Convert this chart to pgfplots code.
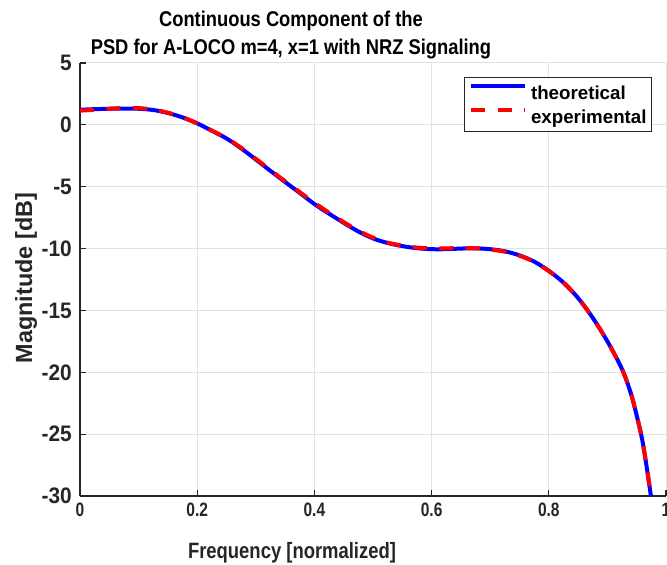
\documentclass[border=0pt]{standalone}
\usepackage{fontspec}
\setmainfont{Liberation Sans}
\newfontfamily\ftitle{Liberation Sans}[FakeStretch=0.86]
\newfontfamily\fxlab{Liberation Sans}[FakeStretch=0.83]
\newfontfamily\fxtick{Liberation Sans}[FakeStretch=0.80]
\newfontfamily\fytick{Liberation Sans}[FakeStretch=0.93]
\usepackage{pgfplots}
\pgfplotsset{compat=1.18}
\usepackage{pgfplotstable}
\definecolor{axgray}{RGB}{38,38,38}
\definecolor{gridgray}{RGB}{226,226,226}

\pgfplotstableread{
x y
0 1.22
0.025 1.27
0.05 1.30
0.075 1.32
0.1 1.30
0.125 1.20
0.15 0.96
0.175 0.60
0.2 0.12
0.225 -0.48
0.25 -1.10
0.275 -1.90
0.3 -2.80
0.325 -3.72
0.35 -4.62
0.375 -5.50
0.4 -6.40
0.425 -7.18
0.45 -7.92
0.475 -8.62
0.5 -9.18
0.525 -9.55
0.55 -9.80
0.575 -9.97
0.6 -10.05
0.625 -10.05
0.65 -10.00
0.675 -9.98
0.7 -10.05
0.725 -10.22
0.75 -10.55
0.775 -11.05
0.8 -11.80
0.825 -12.75
0.85 -14.00
0.875 -15.60
0.9 -17.50
0.925 -19.75
0.94 -21.70
0.95 -23.50
0.96 -25.60
0.97 -28.60
0.98 -32.00
0.99 -36.00
}\theo

\pgfplotstableread{
x y
0 1.15
0.025 1.22
0.05 1.30
0.075 1.36
0.1 1.35
0.125 1.24
0.15 0.98
0.175 0.62
0.2 0.12
0.225 -0.46
0.25 -1.08
0.275 -1.85
0.3 -2.74
0.325 -3.66
0.35 -4.56
0.375 -5.44
0.4 -6.30
0.425 -7.10
0.45 -7.86
0.475 -8.55
0.5 -9.12
0.525 -9.52
0.55 -9.76
0.575 -9.92
0.6 -9.98
0.625 -9.98
0.65 -9.96
0.675 -9.98
0.7 -10.08
0.725 -10.25
0.75 -10.58
0.775 -11.08
0.8 -11.82
0.825 -12.75
0.85 -14.00
0.875 -15.60
0.9 -17.50
0.925 -19.75
0.94 -21.70
0.95 -23.50
0.96 -25.60
0.97 -28.60
0.98 -32.00
0.99 -36.00
}\expe

\begin{document}
\begin{tikzpicture}
\begin{axis}[
  scale only axis, width=586bp, height=433bp,
  at={(0,0)}, anchor=south west,
  xmin=0, xmax=1, ymin=-30, ymax=5,
  xtick={0,0.2,0.4,0.6,0.8,1},
  xticklabels={0,0.2,0.4,0.6,0.8,1},
  ytick={-30,-25,-20,-15,-10,-5,0,5},
  yticklabels={-30,-25,-20,-15,-10,-5,0,5},
  /pgf/number format/assume math mode=true,
  axis lines=left,
  axis line style={-, draw=axgray, line width=1.2bp},
  tick style={draw=axgray, line width=1.2bp},
  tick align=inside, major tick length=6bp,
  grid=major, grid style={draw=gridgray, line width=1bp},
  xticklabel style={font=\fxtick\bfseries\fontsize{19.5}{20}\selectfont, text=axgray, anchor=north, inner sep=0pt, yshift=-7bp},
  yticklabel style={font=\fytick\bfseries\fontsize{22.5}{23}\selectfont, text=axgray, anchor=east, inner sep=0pt, xshift=-8bp},
  xlabel={Frequency [normalized]},
  xlabel style={font=\fxlab\bfseries\fontsize{22.3}{24}\selectfont, text=axgray, at={(axis description cs:0.3618,-0.1455)}, anchor=base, inner sep=0pt},
  ylabel={Magnitude [dB]},
  ylabel style={font=\bfseries\fontsize{23.5}{25}\selectfont, text=axgray, at={(axis description cs:-0.0819,0.5035)}, anchor=base, inner sep=0pt},
  title={Continuous Component of the\\PSD for A-LOCO m=4, x=1 with NRZ Signaling},
  title style={font=\ftitle\bfseries\fontsize{21.4}{28}\selectfont, align=center, at={(axis description cs:0.360,0.9942)}, anchor=south, inner sep=0pt},
  legend cell align=left,
  legend image code/.code={\draw[#1] (0bp,6.5bp) -- (53.4bp,6.5bp);},
  legend style={at={(1,1)}, anchor=north east, xshift=-14bp, yshift=-14bp,
    draw=axgray, line width=0.8bp, fill=white,
    inner xsep=5bp, inner ysep=2.9bp, row sep=0pt, column sep=4.5bp,
    font=\bfseries\fontsize{18.8}{20}\selectfont,
    nodes={inner sep=0pt, text height=18.8bp, text depth=5.5bp}},
]
\addplot[blue, line width=4bp, smooth] table[x=x, y=y] {\theo};
\addlegendentry{theoretical}
\addplot[red, line width=4bp, smooth, dash pattern=on 14bp off 12.5bp] table[x=x, y=y] {\expe};
\addlegendentry{experimental}
\end{axis}
\pgfresetboundingbox
\path[use as bounding box] (-80bp,-69bp) rectangle (587bp,496bp);
\end{tikzpicture}
\end{document}
